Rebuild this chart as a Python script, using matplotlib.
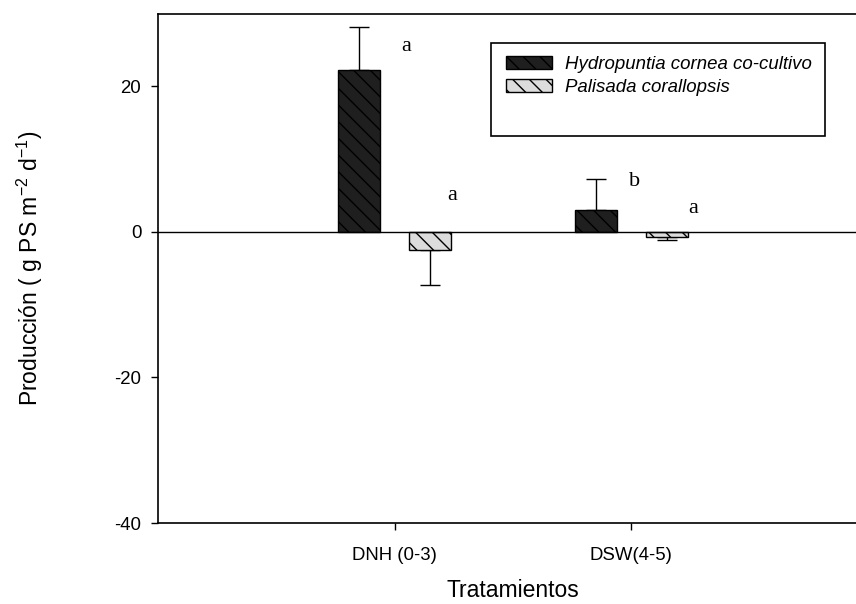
import numpy as np
import matplotlib
matplotlib.use("Agg")
import matplotlib.pyplot as plt
from matplotlib.patches import Rectangle

plt.rcParams['font.family'] = ['Liberation Sans', 'DejaVu Sans']
plt.rcParams['hatch.linewidth'] = 1.0
plt.rcParams['axes.unicode_minus'] = False

# Production per treatment (g PS m-2 d-1)
tratamientos = ['DNH (0-3)', 'DSW(4-5)']
series = ['Hydropuntia cornea co-cultivo', 'Palisada corallopsis']
hydropuntia = [22.2, 3.0]
hydropuntia_err = [5.9, 4.2]
palisada = [-2.5, -0.7]
palisada_err = [4.8, 0.4]
letras_hydro = ['a', 'b']
letras_pali = ['a', 'a']
# where each letter sits (x, y in data units)
pos_letras_hydro = [(1.05, 25.5), (2.013, 6.9)]
pos_letras_pali = [(1.245, 5.0), (2.263, 3.2)]

fig = plt.figure(figsize=(8.56, 6.04), dpi=100)
ax = fig.add_axes([158 / 856, 81 / 604, 710 / 856, 509.5 / 604])

x = np.arange(1, len(tratamientos) + 1)
w = 0.18
off = 0.15

ax.bar(x - off, hydropuntia, w, color='#1f1f1f', edgecolor='black',
       linewidth=1, hatch='\\\\', label=series[0], zorder=2)
ax.bar(x + off, palisada, w, color='#dcdcdc', edgecolor='black',
       linewidth=1, hatch='\\\\', label=series[1], zorder=2)

# one-sided error bars, pointing away from zero
for xs, vals, errs in [(x - off, hydropuntia, hydropuntia_err),
                       (x + off, palisada, palisada_err)]:
    for xi, v, e in zip(xs, vals, errs):
        yerr = [[0], [e]] if v >= 0 else [[e], [0]]
        ax.errorbar(xi, v, yerr=yerr, fmt='none', ecolor='black',
                    elinewidth=1, capsize=7, capthick=1, zorder=1)

ax.axhline(0, color='black', linewidth=1, zorder=3)

# significance letters
for (lx, ly), l in zip(pos_letras_hydro + pos_letras_pali,
                       letras_hydro + letras_pali):
    ax.text(lx, ly, l, family='Liberation Serif', fontsize=16,
            ha='center', va='center')

ax.set_xlim(0, 3)
ax.set_ylim(-40, 30)
ax.set_yticks([-40, -20, 0, 20])
ax.set_xticks(x)
ax.set_xticklabels(tratamientos)
ax.tick_params(direction='out', length=5, width=1, labelsize=13.4, pad=7)
ax.tick_params(axis='x', pad=12)
for s in ['left', 'bottom', 'top']:
    ax.spines[s].set_linewidth(1.2)

ax.set_xlabel('Tratamientos', fontsize=16.5, labelpad=11)
ax.set_ylabel('Producción ( g PS m$^{\\mathregular{-2}}$ d$^{\\mathregular{-1}}$)',
              fontsize=16.5, labelpad=50)

# legend box
fig.patches.append(Rectangle((491 / 856, 1 - 136 / 604), 334 / 856, 93 / 604,
                             transform=fig.transFigure, fill=False,
                             edgecolor='black', linewidth=1.2))
leg = ax.legend(loc='upper left', bbox_to_anchor=(506 / 856, 1 - 56 / 604),
                bbox_transform=fig.transFigure, frameon=False, borderpad=0,
                borderaxespad=0, handlelength=2.45, handleheight=0.7,
                handletextpad=0.7, labelspacing=0.3,
                prop={'style': 'italic', 'size': 13.4})

fig.savefig('out.png', dpi=100)
